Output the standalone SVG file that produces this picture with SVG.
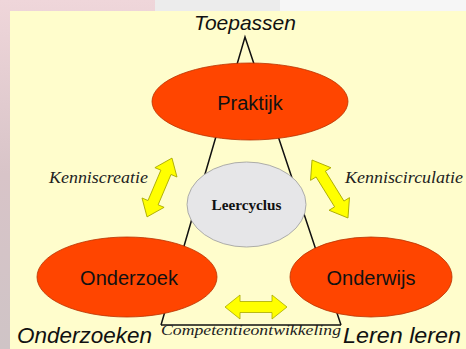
<svg xmlns="http://www.w3.org/2000/svg" width="466" height="349" viewBox="0 0 466 349">
<style>
.node{fill:#ff4500;stroke:#b83200;stroke-width:0.8}
.lbl{font-family:"Liberation Sans",Arial,sans-serif;fill:#111}
.it{font-family:"Liberation Sans",Arial,sans-serif;font-style:italic;fill:#111}
.serif{font-family:"Liberation Serif","Times New Roman",serif;font-style:italic;fill:#222}
.arrow{fill:#ffff00;stroke:#a8a800;stroke-width:0.8}
.line{fill:none;stroke:#111;stroke-width:1.5}
</style>
<defs>
<path id="dbl" d="M-31,0 L-16,-12 L-16,-5.5 L16,-5.5 L16,-12 L31,0 L16,12 L16,5.5 L-16,5.5 L-16,12 Z"/>
<linearGradient id="lg" x1="0" y1="0" x2="0" y2="1">
<stop offset="0" stop-color="#efd6da"/>
<stop offset="0.5" stop-color="#d8c4c8"/>
<stop offset="1" stop-color="#cfc4c6"/>
</linearGradient>
</defs>
<rect x="0" y="0" width="466" height="349" fill="url(#lg)"/>
<rect x="155" y="0" width="311" height="11" fill="#ececec"/>
<rect x="280" y="0" width="186" height="11" fill="#f6f6f6"/>
<rect x="10" y="11" width="456" height="338" fill="#fffdcc"/>
<g id="connectors">
<path class="line" d="M161,325 L245,37 L341,325"/>
<path class="line" d="M161,325 L341,325"/>
<use href="#dbl" class="arrow" transform="translate(159.5,187.5) rotate(113) scale(1.03,1)"/>
<use href="#dbl" class="arrow" transform="translate(330,189) rotate(58.2) scale(1.1,1)"/>
<use href="#dbl" class="arrow" transform="translate(256,307)"/>
</g>
<g id="praktijk">
<ellipse class="node" cx="250" cy="101.5" rx="98" ry="38.5"/>
<text class="lbl" x="250" y="110" font-size="20" text-anchor="middle">Praktijk</text>
</g>
<g id="leercyclus">
<ellipse cx="246.5" cy="204.5" rx="59.5" ry="42.5" fill="#e6e6e8" stroke="#9a9a9a" stroke-width="0.8"/>
<text x="246.5" y="210" font-family="'Liberation Serif','Times New Roman',serif" font-weight="bold" font-size="15" text-anchor="middle" fill="#111" textLength="70" lengthAdjust="spacingAndGlyphs">Leercyclus</text>
</g>
<g id="onderzoek">
<ellipse class="node" cx="127" cy="277" rx="90" ry="40"/>
<text class="lbl" x="129" y="285" font-size="20" text-anchor="middle">Onderzoek</text>
</g>
<g id="onderwijs">
<ellipse class="node" cx="371" cy="277" rx="81" ry="40"/>
<text class="lbl" x="371" y="285" font-size="20" text-anchor="middle">Onderwijs</text>
</g>
<g id="labels">
<text class="it" x="245" y="30" font-size="21" text-anchor="middle">Toepassen</text>
<text class="it" x="17" y="343" font-size="22" textLength="135" lengthAdjust="spacingAndGlyphs">Onderzoeken</text>
<text class="it" x="343" y="343" font-size="22" textLength="118" lengthAdjust="spacingAndGlyphs">Leren leren</text>
<text class="serif" x="49" y="183" font-size="17" textLength="99" lengthAdjust="spacingAndGlyphs">Kenniscreatie</text>
<text class="serif" x="345" y="183" font-size="17" textLength="118" lengthAdjust="spacingAndGlyphs">Kenniscirculatie</text>
<text class="serif" x="161" y="335" font-size="15" textLength="180" lengthAdjust="spacingAndGlyphs">Competentieontwikkeling</text>
</g>
</svg>
